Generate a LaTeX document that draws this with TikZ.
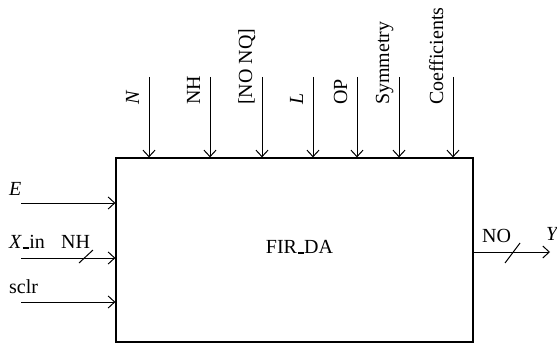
\documentclass[tikz,border=0pt]{standalone}
\usepackage{fontspec}
\setmainfont{Liberation Serif}
\usetikzlibrary{arrows.meta}
% short low rule used for the underscore in signal names
\newcommand\usc{\kern0.6pt\rule[-0.6pt]{6pt}{1.3pt}\kern0.6pt}
\begin{document}
\begin{tikzpicture}[x=1pt,y=-1pt,
  sig/.style={-{Straight Barb[length=6.5pt,width=12pt,line width=1pt]}, line width=1pt},
  bus/.style={line width=1pt},
  lbl/.style={inner sep=0pt, font=\fontsize{20}{23}\selectfont, anchor=base west},
  toplbl/.style={lbl, rotate=90},
  blk/.style={draw, line width=1.2pt, minimum width=357pt, minimum height=184pt, inner sep=0pt}]
\useasboundingbox (0,0) rectangle (557,345);

% filter block
\node[blk] (fir) at (294.5,250) {};
\node[lbl, anchor=base] (firl) at (299.5,253) {FIR\usc DA};

% parameter inputs from the top
\foreach \nm/\xx/\txt in {pN/149/\textit{N}, pNH/210/NH, pNQ/262/[NO NQ], pL/313/\textit{L},
                          pOP/357/OP, pSym/399/Symmetry, pCoef/453/Coefficients}{
  \coordinate (\nm) at (\xx,77);
  \node[toplbl] (\nm l) at (\xx-10,105) {\txt};
  \draw[sig] (\nm) -- (\nm |- fir.north);
}

% signal inputs on the left
\coordinate (iE) at (21,203);
\coordinate (iX) at (21,258);
\coordinate (iS) at (21,302);
\node[lbl] (lE) at (9,195) {\textit{E}};
\node[lbl] (lX) at (9,248) {\textit{X}\usc in};
\node[lbl] (lNH) at (61,248) {NH};
\node[lbl] (lS) at (9,293) {sclr};
\draw[sig] (iE) -- (iE -| fir.west);
\draw[sig] (iX) -- (iX -| fir.west);
\draw[sig] (iS) -- (iS -| fir.west);
\coordinate (bX1) at (79,263);
\coordinate (bX2) at (93,250);
\draw[bus] (bX1) -- (bX2);

% output on the right
\coordinate (oY) at (550,252);
\node[lbl] (lNO) at (482,242) {NO};
\node[lbl] (lY) at (546,240) {\textit{Y}};
\draw[sig] (fir.east |- oY) -- (oY);
\coordinate (bY1) at (505,263);
\coordinate (bY2) at (520,243);
\draw[bus] (bY1) -- (bY2);
\end{tikzpicture}
\end{document}
